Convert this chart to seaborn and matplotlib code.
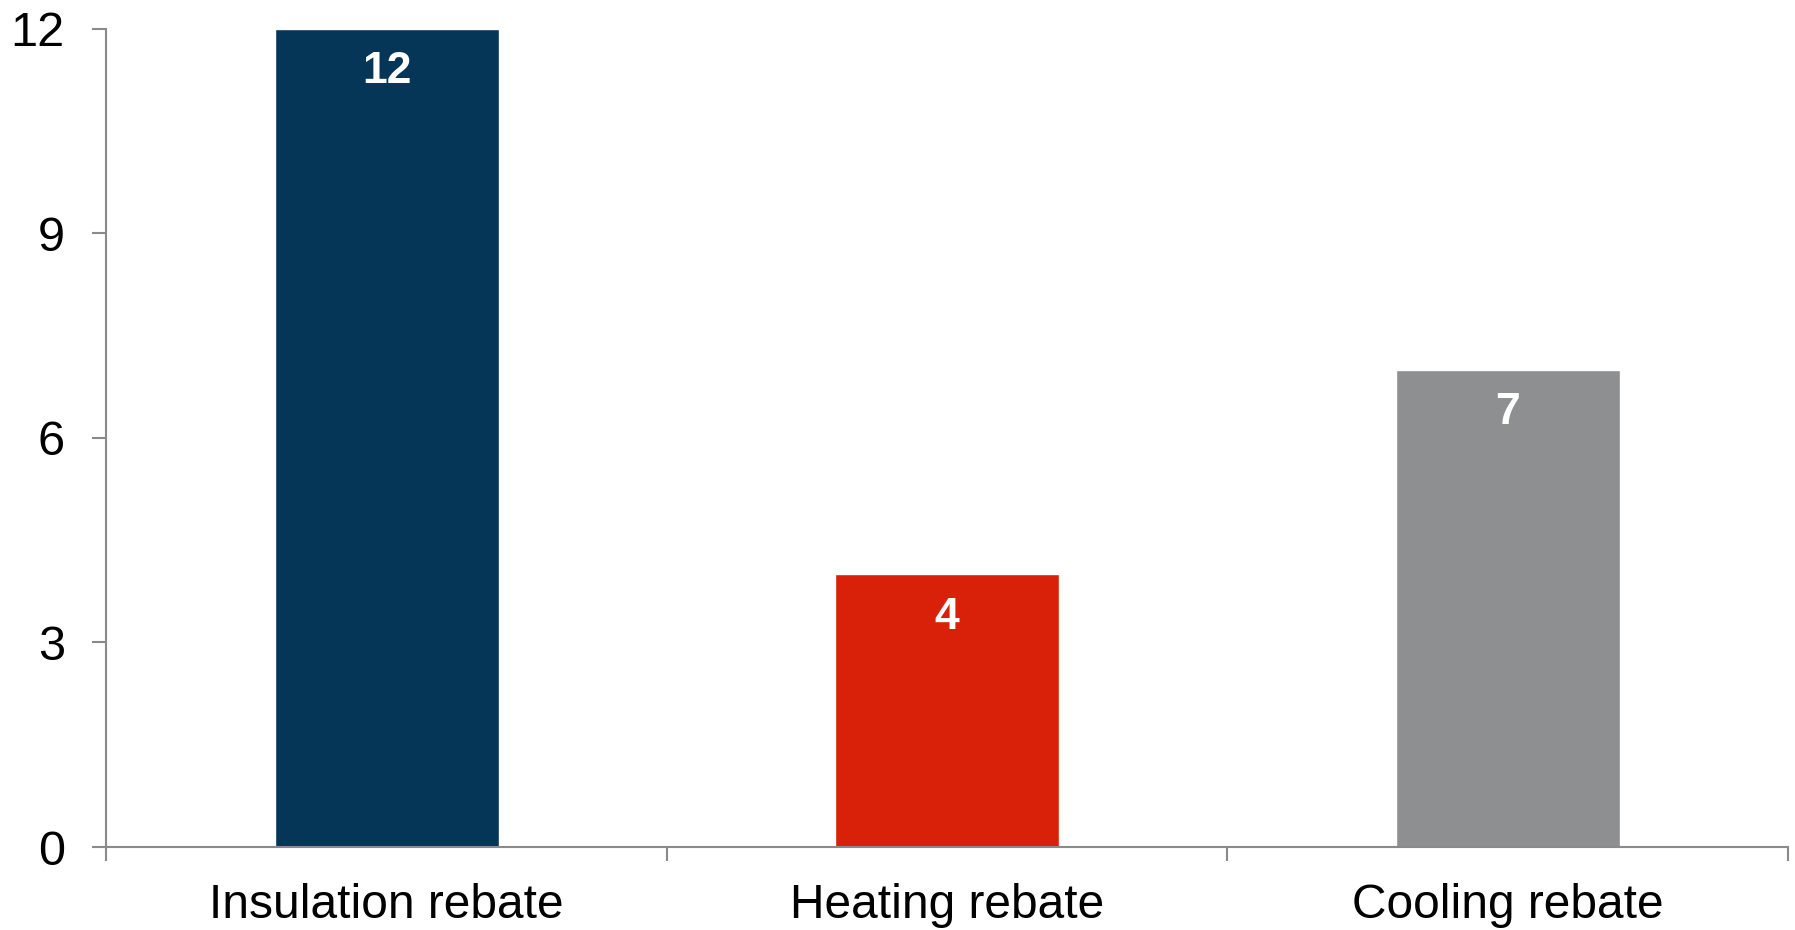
import matplotlib
matplotlib.use("Agg")
import matplotlib.pyplot as plt
import seaborn as sns
import pandas as pd

categories = ["Insulation rebate", "Heating rebate", "Cooling rebate"]
values = [12, 4, 7]
bar_colors = ["#063657", "#D92008", "#8E8F91"]
y_ticks = [0, 3, 6, 9, 12]

sns.set_theme(style="white")
plt.rcParams["font.family"] = ["Liberation Sans", "DejaVu Sans"]

df = pd.DataFrame({"category": categories, "value": values})

fig = plt.figure(figsize=(17.95, 9.3), dpi=100)
ax = fig.add_axes([0.0593, 0.0892, 0.9368, 0.88])

sns.barplot(data=df, x="category", y="value", hue="category",
            palette=bar_colors, width=0.4, saturation=1, legend=False, ax=ax)

for patch, v in zip(ax.patches, values):
    cx = patch.get_x() + patch.get_width() / 2
    ax.annotate(f"{v}", xy=(cx, v), xytext=(0, -31), textcoords="offset points",
                ha="center", va="center", color="white", fontsize=32,
                fontweight="bold")

ax.set_xlim(-0.5, 2.5)
ax.set_ylim(0, 12)
ax.set_yticks(y_ticks)
ax.set_xlabel("")
ax.set_ylabel("")

spine_color = "#8a8a8a"
for side in ["top", "right"]:
    ax.spines[side].set_visible(False)
for side in ["left", "bottom"]:
    ax.spines[side].set_color(spine_color)
    ax.spines[side].set_linewidth(1.5)

# category separators as outward minor ticks on the x axis
ax.set_xticks([-0.5, 0.5, 1.5, 2.5], minor=True)
ax.tick_params(axis="x", which="major", length=0, pad=26, labelsize=34.5,
               labelcolor="black")
ax.tick_params(axis="x", which="minor", direction="out", length=10,
               width=1.5, color=spine_color, bottom=True)
ax.tick_params(axis="y", which="major", direction="out", length=10,
               width=1.5, color=spine_color, left=True, pad=20,
               labelsize=35, labelcolor="black")

fig.savefig("out.png", dpi=100)
